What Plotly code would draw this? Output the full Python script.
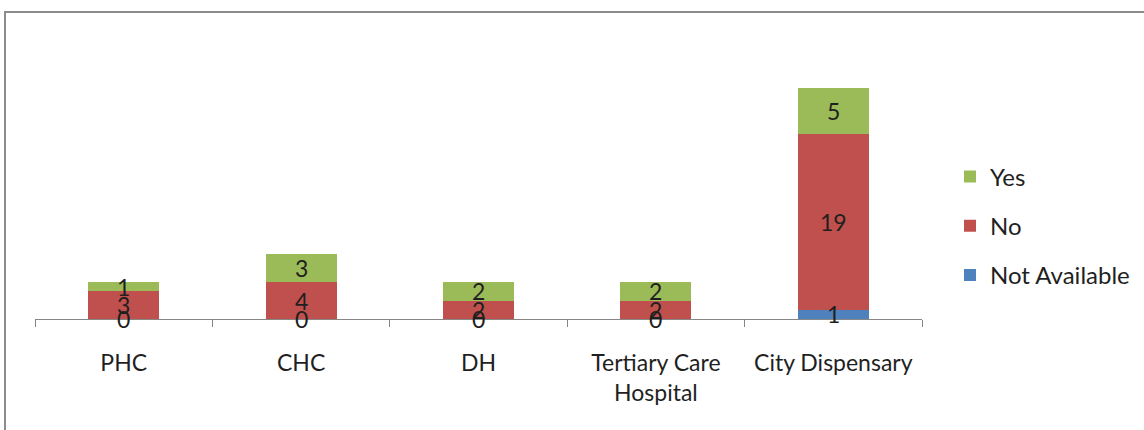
import plotly.graph_objects as go

# Facility categories and response counts per series
categories = ["PHC", "CHC", "DH", "Tertiary Care Hospital", "City Dispensary"]
tick_labels = ["PHC", "CHC", "DH", "Tertiary Care<br>Hospital", "City Dispensary"]
not_available = [0, 0, 0, 0, 1]
no = [3, 4, 2, 2, 19]
yes = [1, 3, 2, 2, 5]

series = [
    ("Not Available", not_available, "#4F81BD"),
    ("No", no, "#C0504D"),
    ("Yes", yes, "#9BBB59"),
]

FONT = "Lato"
TEXT_COLOR = "#1f1f1f"
SIZE = 23

fig = go.Figure()
for i, (name, vals, color) in enumerate(series):
    fig.add_trace(go.Bar(
        x=categories, y=vals, name=name,
        marker=dict(color=color, line=dict(width=0)),
        legendgroup=name, legendrank=3 - i,
        hoverinfo="skip",
    ))

# Segment value labels, centred on each stacked segment
annotations = []
base = [0] * len(categories)
for name, vals, color in series:
    for j, v in enumerate(vals):
        annotations.append(dict(
            x=categories[j], y=base[j] + v / 2, text=str(v),
            showarrow=False, xref="x", yref="y",
            font=dict(family=FONT, size=SIZE, color=TEXT_COLOR),
        ))
        base[j] += v

L, R, T, B = 35, 222, 88, 111
W, H = 1144, 430
pw, ph = W - L - R, H - T - B

# Outer chart frame
shapes = [dict(
    type="rect", xref="paper", yref="paper",
    x0=(5 - L) / pw, x1=(W + 20 - L) / pw,
    y0=-(B + 20) / ph, y1=(H - 12 - B) / ph,
    line=dict(color="#8c8c8c", width=2), fillcolor="rgba(0,0,0,0)",
    layer="below",
)]

fig.update_layout(
    barmode="stack",
    bargap=0.6,
    width=W, height=H,
    margin=dict(l=L, r=R, t=T, b=B, pad=0, autoexpand=False),
    paper_bgcolor="white", plot_bgcolor="white",
    font=dict(family=FONT, size=SIZE, color=TEXT_COLOR),
    annotations=annotations,
    shapes=shapes,
    legend=dict(
        x=(950 - L) / pw, xanchor="left",
        y=(319 - 226) / ph, yanchor="middle",
        traceorder="grouped", tracegroupgap=15,
        font=dict(family=FONT, size=24, color=TEXT_COLOR),
        itemwidth=30,
    ),
    xaxis=dict(
        tickmode="array", tickvals=categories, ticktext=tick_labels,
        tickson="boundaries", ticks="outside", ticklen=7,
        tickcolor="#868686", showline=True, linecolor="#868686", linewidth=1,
        showgrid=False, ticklabelstandoff=23,
        tickfont=dict(family=FONT, size=SIZE, color=TEXT_COLOR),
    ),
    yaxis=dict(visible=False, range=[0, 25]),
)

fig.write_html("out.html")
